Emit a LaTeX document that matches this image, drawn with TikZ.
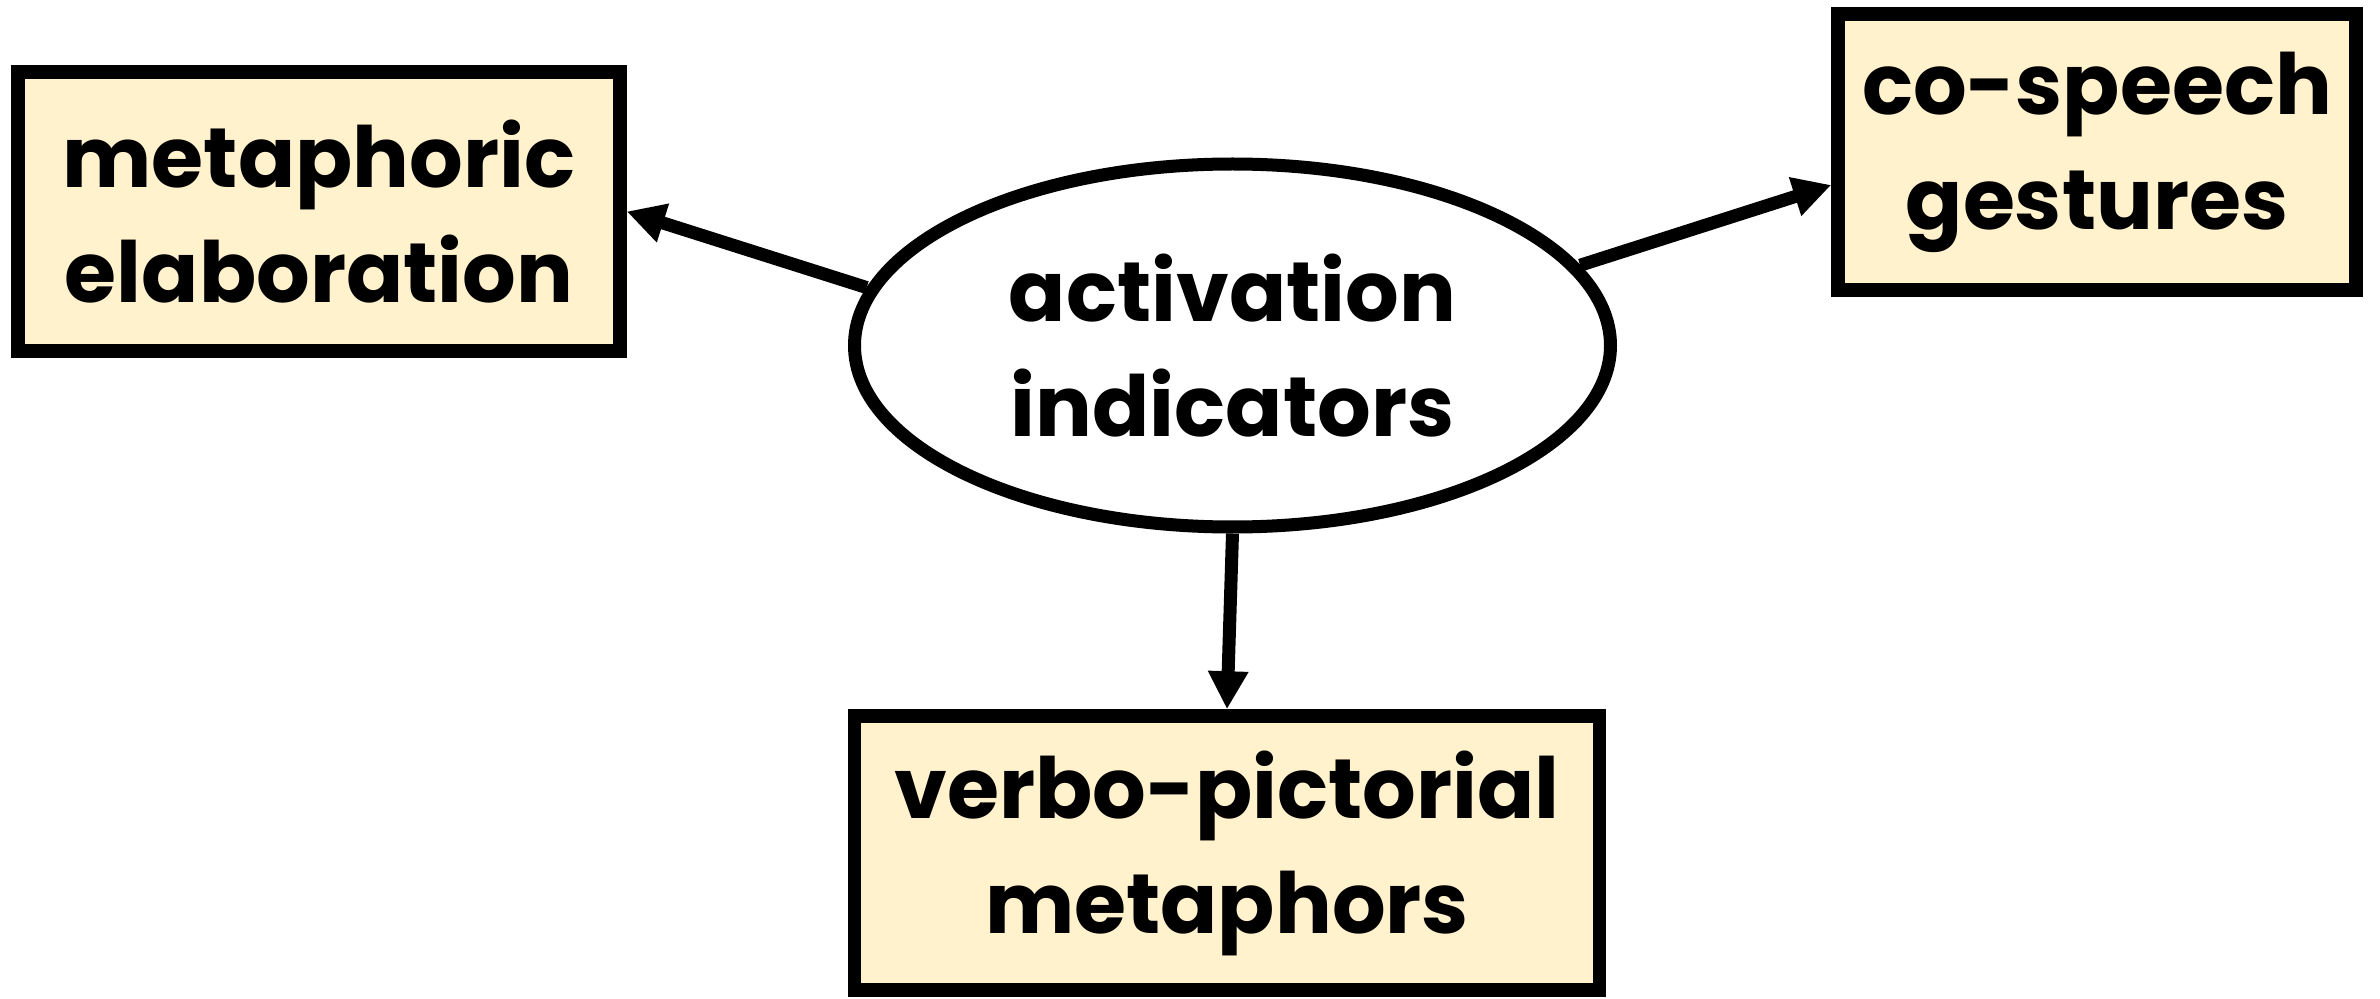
\documentclass[tikz,border=0pt]{standalone}
\usepackage{fontspec}
\setmainfont{Poppins}
\usetikzlibrary{shapes.geometric,arrows.meta}
\definecolor{boxfill}{HTML}{FFF2CC}
\tikzset{
  lbl/.style={font=\bfseries\fontsize{24}{32.7}\selectfont, align=center, inner sep=0pt},
  boxnode/.style={lbl, draw=black, fill=boxfill, line width=0.135cm, rectangle},
  ellnode/.style={lbl, draw=black, fill=white, line width=0.13cm, ellipse},
  arr/.style={draw=black, line width=0.13cm, -{Triangle[length=0.38cm,width=0.38cm]}}
}
\begin{document}
\begin{tikzpicture}
\useasboundingbox (0,0) rectangle (23.8,9.98);
\node[ellnode, minimum width=7.56cm, minimum height=3.63cm] (act) at (12.325,6.525) {activation\\indicators};
\node[boxnode, minimum width=6.02cm, minimum height=2.79cm] (me) at (3.19,7.865) {metaphoric\\elaboration};
\node[boxnode, minimum width=5.18cm, minimum height=2.76cm] (cs) at (20.97,8.46) {co-speech\\gestures};
\node[boxnode, minimum width=7.45cm, minimum height=2.74cm] (vb) at (12.27,1.45) {verbo-pictorial\\metaphors};
\draw[arr] (act.171) -- (me.east);
\draw[arr] (act.13.5) -- ([yshift=-3.3mm]cs.west);
\draw[arr] (act.south) -- (vb.north);
\end{tikzpicture}
\end{document}
